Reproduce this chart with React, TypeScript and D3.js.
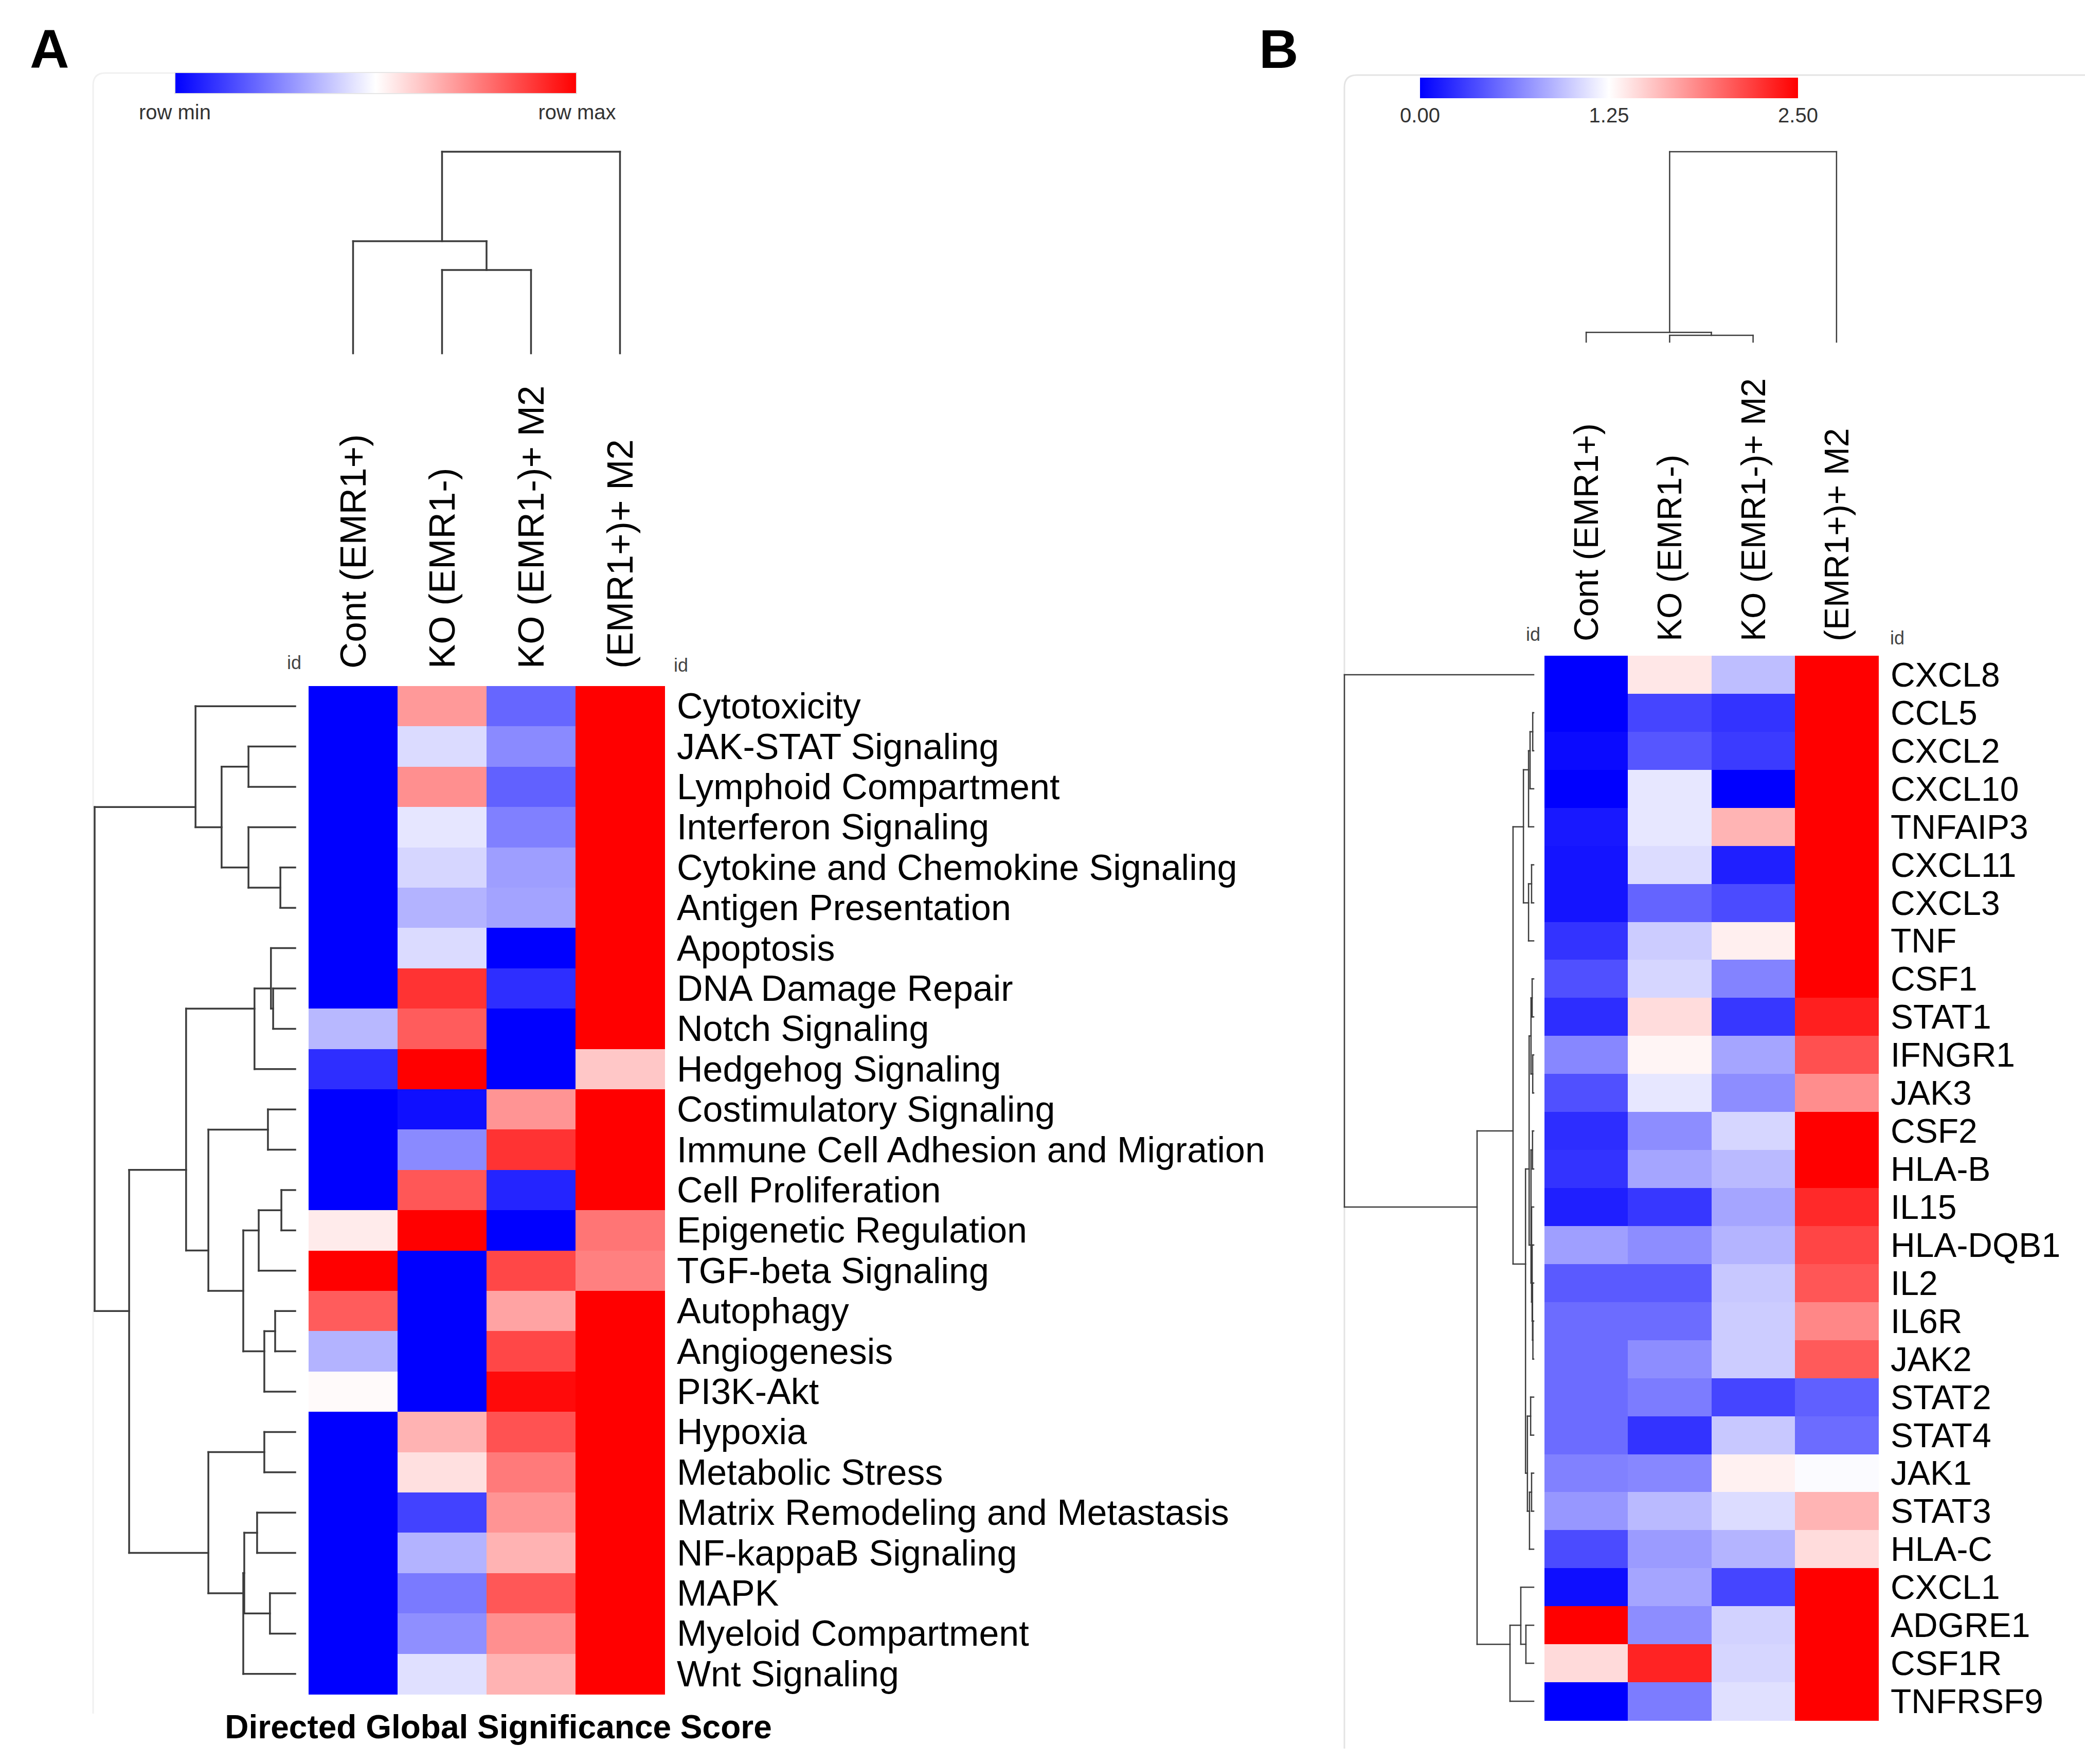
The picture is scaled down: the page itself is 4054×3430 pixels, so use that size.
import * as d3 from 'd3';

// ---- data ----
const colsA = ['Cont (EMR1+)', 'KO (EMR1-)', 'KO (EMR1-)+ M2', '(EMR1+)+ M2'];
const rowsA = [
  'Cytotoxicity', 'JAK-STAT Signaling', 'Lymphoid Compartment', 'Interferon Signaling',
  'Cytokine and Chemokine Signaling', 'Antigen Presentation', 'Apoptosis', 'DNA Damage Repair',
  'Notch Signaling', 'Hedgehog Signaling', 'Costimulatory Signaling', 'Immune Cell Adhesion and Migration',
  'Cell Proliferation', 'Epigenetic Regulation', 'TGF-beta Signaling', 'Autophagy', 'Angiogenesis',
  'PI3K-Akt', 'Hypoxia', 'Metabolic Stress', 'Matrix Remodeling and Metastasis', 'NF-kappaB Signaling',
  'MAPK', 'Myeloid Compartment', 'Wnt Signaling',
];
// relative scores (row min -> row max)
const valuesA = [
  [0, 0.70, 0.20, 1], [0, 0.43, 0.27, 1], [0, 0.72, 0.19, 1], [0, 0.45, 0.25, 1],
  [0, 0.42, 0.31, 1], [0, 0.35, 0.32, 1], [0, 0.43, 0, 1], [0, 0.90, 0.09, 1],
  [0.36, 0.82, 0, 1], [0.09, 1, 0, 0.61], [0, 0.03, 0.71, 1], [0, 0.27, 0.90, 1],
  [0, 0.83, 0.07, 1], [0.54, 1, 0, 0.77], [1, 0, 0.86, 0.75], [0.82, 0, 0.68, 1],
  [0.35, 0, 0.86, 1], [0.51, 0, 0.98, 1], [0, 0.65, 0.84, 1], [0, 0.56, 0.76, 1],
  [0, 0.13, 0.71, 1], [0, 0.35, 0.65, 1], [0, 0.24, 0.83, 1], [0, 0.28, 0.72, 1],
  [0, 0.44, 0.65, 1],
];
// dendrograms: [height, left, right], leaf = row/col index
const rowTreeA = [1.0,
  [0.497, 0, [0.367, [0.233, 1, 2], [0.233, 3, [0.074, 4, 5]]]],
  [0.828,
    [0.544,
      [0.203, [0.121, 6, [0.110, 7, 8]], 9],
      [0.433, [0.136, 10, 11], [0.259, [0.182, [0.069, 12, 13], 14], [0.154, [0.100, 15, 16], 17]]]],
    [0.433, [0.154, 18, 19], [0.259, [0.254, [0.190, 20, 21], [0.126, 22, 23]], 24]]]];
const colTreeA = [1.0, [0.556, 0, [0.413, 1, 2]], 3];

const colsB = colsA;
const rowsB = [
  'CXCL8', 'CCL5', 'CXCL2', 'CXCL10', 'TNFAIP3', 'CXCL11', 'CXCL3', 'TNF', 'CSF1', 'STAT1',
  'IFNGR1', 'JAK3', 'CSF2', 'HLA-B', 'IL15', 'HLA-DQB1', 'IL2', 'IL6R', 'JAK2', 'STAT2',
  'STAT4', 'JAK1', 'STAT3', 'HLA-C', 'CXCL1', 'ADGRE1', 'CSF1R', 'TNFRSF9',
];
const valuesB = [
  [0, 1.37, 0.93, 2.5], [0, 0.34, 0.25, 2.5], [0.05, 0.42, 0.29, 2.5], [0, 1.13, 0, 2.5],
  [0.12, 1.13, 1.62, 2.5], [0.10, 1.08, 0.15, 2.5], [0.10, 0.49, 0.37, 2.5], [0.25, 1.0, 1.33, 2.5],
  [0.39, 1.05, 0.64, 2.5], [0.22, 1.42, 0.27, 2.35], [0.66, 1.30, 0.81, 2.11], [0.39, 1.13, 0.69, 1.81],
  [0.22, 0.69, 1.05, 2.5], [0.25, 0.81, 0.91, 2.5], [0.15, 0.27, 0.81, 2.30], [0.78, 0.69, 0.88, 2.16],
  [0.44, 0.44, 0.98, 2.08], [0.53, 0.53, 1.0, 1.84], [0.53, 0.69, 1.0, 2.06], [0.53, 0.61, 0.34, 0.47],
  [0.53, 0.25, 0.98, 0.53], [0.63, 0.66, 1.32, 1.23], [0.74, 0.91, 1.08, 1.62], [0.37, 0.76, 0.88, 1.42],
  [0.07, 0.81, 0.34, 2.5], [2.5, 0.69, 1.03, 2.5], [1.43, 2.33, 1.05, 2.5], [0, 0.61, 1.10, 2.5],
];
const rowTreeB = [1.0, 0,
  [0.299,
    [0.109,
      [0.054, [0.027, [0.019, [0.005, 1, 2], 3], 4], [0.027, [0.011, 5, 6], 7]],
      [0.043,
        [0.024,
          [0.014, [0.008, 8, 9], [0.005, 10, 11]],
          [0.014, [0.006, 12, 13], [0.011, 14, [0.008, 15, [0.006, 16, [0.004, 17, 18]]]]]],
        [0.033, [0.016, 19, 20], [0.022, [0.011, 21, 22], 23]]]],
    [0.125, [0.068, 24, [0.041, 25, 26]], 27]]];
const colTreeB = [1.0, [0.051, 0, [0.035, 1, 2]], 3];
const scaleTicksB = [0, 1.25, 2.5];

const FONT = '"Liberation Sans", Arial, sans-serif';
const BLUE = '#0000ff';
const RED = '#ff0000';

type Seg = { x1: number; y1: number; x2: number; y2: number };

function treeSegs(tree: any, leafPos: (i: number) => number, hPos: (h: number) => number, rowWise: boolean): Seg[] {
  const segs: Seg[] = [];
  const add = (h1: number, p1: number, h2: number, p2: number) => {
    if (rowWise) segs.push({ x1: hPos(h1), y1: p1, x2: hPos(h2), y2: p2 });
    else segs.push({ x1: p1, y1: hPos(h1), x2: p2, y2: hPos(h2) });
  };
  const walk = (t: any): { p: number; h: number; leaves: number[] } => {
    if (typeof t === 'number') return { p: leafPos(t), h: 0, leaves: [t] };
    const [h, a, b] = t;
    const A = walk(a);
    const B = walk(b);
    const leaves = A.leaves.concat(B.leaves);
    const p = d3.mean(leaves, (i) => leafPos(i)) as number;
    add(A.h, A.p, h, A.p);
    add(B.h, B.p, h, B.p);
    add(h, A.p, h, B.p);
    return { p, h, leaves };
  };
  walk(tree);
  return segs;
}

function Heatmap(props: {
  rows: string[]; cols: string[]; values: number[][];
  rowTree: any; colTree: any;
  x0: number; x1: number; y0: number; y1: number;
  rowLeafX: number; rowRootX: number; colLeafY: number; colRootY: number;
  rowFont: number; colFont: number; colLabelY: number;
  color: (v: number, r: number) => string;
  lineW: number; idLeft: [number, number]; idRight: [number, number];
}) {
  const p = props;
  const x = d3.scaleBand<number>().domain(d3.range(p.cols.length)).range([p.x0, p.x1]);
  const y = d3.scaleBand<number>().domain(d3.range(p.rows.length)).range([p.y0, p.y1]);
  const hx = d3.scaleLinear().domain([0, 1]).range([p.rowLeafX, p.rowRootX]);
  const hy = d3.scaleLinear().domain([0, 1]).range([p.colLeafY, p.colRootY]);
  const rSegs = treeSegs(p.rowTree, (i) => (y(i) as number) + y.bandwidth() / 2, hx, true);
  const cSegs = treeSegs(p.colTree, (i) => (x(i) as number) + x.bandwidth() / 2, hy, false);
  return (
    <g>
      <g shapeRendering="crispEdges">
        {p.values.map((row, r) =>
          row.map((v, c) => (
            <rect key={r + '-' + c} x={x(c)} y={y(r)} width={x.bandwidth() + 0.5} height={y.bandwidth() + 0.5}
              fill={p.color(v, r)} />
          )))}
      </g>
      <g stroke="#3c3c3c" strokeWidth={p.lineW} strokeLinecap="square">
        {rSegs.concat(cSegs).map((s, i) => (
          <line key={i} x1={s.x1} y1={s.y1} x2={s.x2} y2={s.y2} />
        ))}
      </g>
      {p.rows.map((name, r) => (
        <text key={name} x={p.x1 + 24} y={(y(r) as number) + y.bandwidth() / 2} dominantBaseline="central"
          fontFamily={FONT} fontSize={p.rowFont} fill="#000">{name}</text>
      ))}
      {p.cols.map((name, c) => {
        const cx = (x(c) as number) + x.bandwidth() / 2;
        return (
          <text key={name} transform={`translate(${cx},${p.colLabelY}) rotate(-90)`} dominantBaseline="central"
            fontFamily={FONT} fontSize={p.colFont} fill="#000">{name}</text>
        );
      })}
      <text x={p.idLeft[0]} y={p.idLeft[1]} textAnchor="middle" dominantBaseline="central" fontFamily={FONT}
        fontSize={36} fill="#444">id</text>
      <text x={p.idRight[0]} y={p.idRight[1]} textAnchor="middle" dominantBaseline="central" fontFamily={FONT}
        fontSize={36} fill="#444">id</text>
    </g>
  );
}

export default function App() {
  const W = 4054;
  const H = 3430;

  // panel A: row-relative colours
  const rowScales = valuesA.map((row) => {
    const mn = d3.min(row) as number;
    const mx = d3.max(row) as number;
    return d3.scaleLinear<string>().domain([mn, (mn + mx) / 2, mx]).range([BLUE, '#ffffff', RED]).clamp(true);
  });
  const colorA = (v: number, r: number) => rowScales[r](v);
  // panel B: absolute 0 - 2.5
  const scaleB = d3.scaleLinear<string>().domain([0, 1.25, 2.5]).range([BLUE, '#ffffff', RED]).clamp(true);
  const colorB = (v: number) => scaleB(v);
  const barB = d3.scaleLinear().domain([0, 2.5]).range([2761, 3496]);

  return (
    <svg width={W} height={H} viewBox={`0 0 ${W} ${H}`} style={{ position: 'absolute', left: 0, top: 0, background: '#fff' }}>
      <defs>
        <linearGradient id="bwr" x1="0" x2="1" y1="0" y2="0">
          <stop offset="0" stopColor={BLUE} />
          <stop offset="0.5" stopColor="#ffffff" />
          <stop offset="1" stopColor={RED} />
        </linearGradient>
      </defs>
      <rect width={W} height={H} fill="#fff" />

      {/* panel frames */}
      <path d="M181,3332 V166 Q181,142 205,142 H900" fill="none" stroke="#f0f0f0" strokeWidth={3} />
      <path d="M2614,3400 V170 Q2614,146 2638,146 H4054" fill="none" stroke="#e4e4e4" strokeWidth={3} />

      {/* panel letters */}
      <text x={58} y={132} fontFamily={FONT} fontWeight="bold" fontSize={106} fill="#000">A</text>
      <text x={2448} y={132} fontFamily={FONT} fontWeight="bold" fontSize={106} fill="#000">B</text>

      {/* colour bars */}
      <rect x={340} y={141} width={781} height={41} fill="url(#bwr)" stroke="#e6e6e6" strokeWidth={2} />
      <text x={340} y={218} textAnchor="middle" dominantBaseline="central" fontFamily={FONT} fontSize={40} fill="#333">row min</text>
      <text x={1122} y={218} textAnchor="middle" dominantBaseline="central" fontFamily={FONT} fontSize={40} fill="#333">row max</text>

      <rect x={2761} y={151} width={735} height={40} fill="url(#bwr)" />
      {scaleTicksB.map((t) => (
        <text key={t} x={barB(t)} y={224} textAnchor="middle" dominantBaseline="central" fontFamily={FONT}
          fontSize={40} fill="#333">{t.toFixed(2)}</text>
      ))}

      <Heatmap rows={rowsA} cols={colsA} values={valuesA} rowTree={rowTreeA} colTree={colTreeA}
        x0={600} x1={1292} y0={1334} y1={3294}
        rowLeafX={574} rowRootX={184} colLeafY={687} colRootY={295}
        rowFont={70} colFont={71} colLabelY={1300} color={colorA} lineW={3.5}
        idLeft={[572, 1288]} idRight={[1324, 1293]} />

      <Heatmap rows={rowsB} cols={colsB} values={valuesB} rowTree={rowTreeB} colTree={colTreeB}
        x0={3003} x1={3652} y0={1275} y1={3345}
        rowLeafX={2982} rowRootX={2614} colLeafY={665} colRootY={295}
        rowFont={66} colFont={66} colLabelY={1247} color={(v) => colorB(v)} lineW={2.5}
        idLeft={[2981, 1233]} idRight={[3689, 1240]} />

      <text x={969} y={3358} textAnchor="middle" dominantBaseline="central" fontFamily={FONT} fontWeight="bold"
        fontSize={64} fill="#000">Directed Global Significance Score</text>
    </svg>
  );
}
